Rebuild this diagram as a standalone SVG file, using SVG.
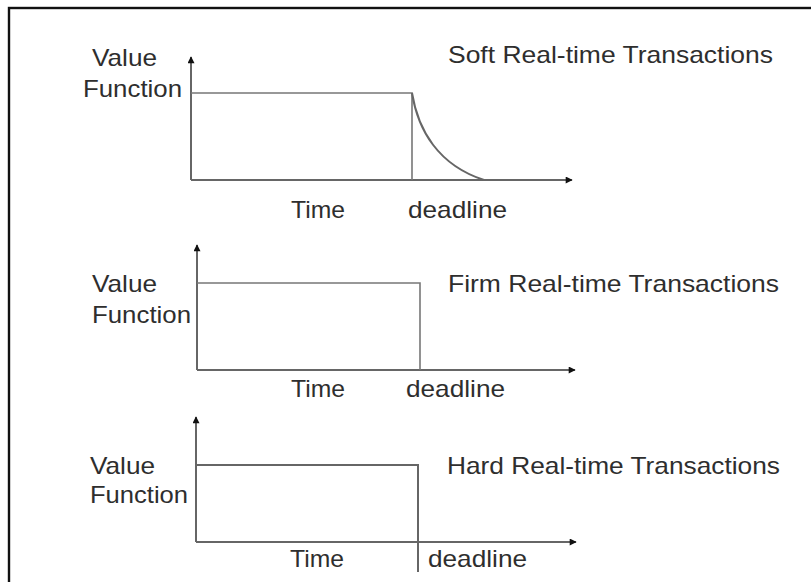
<svg xmlns="http://www.w3.org/2000/svg" width="811" height="582" viewBox="0 0 811 582">
<style>
text{font-family:"Liberation Sans",Arial,sans-serif;font-size:24px;fill:#2e2e2e}
.ax{stroke:#666;stroke-width:2;fill:none}
.ln{stroke:#777;stroke-width:1.6;fill:none}
</style>
<defs>
<marker id="ah" viewBox="0 0 10 10" refX="9" refY="5" markerWidth="8" markerHeight="7" markerUnits="userSpaceOnUse" orient="auto">
<path d="M0,0 L10,5 L0,10 z" fill="#111"/>
</marker>
</defs>
<rect x="0" y="0" width="811" height="582" fill="#fff"/>
<rect x="9" y="8" width="830" height="600" fill="none" stroke="#111" stroke-width="2.4"/>
<g id="connectors">
<path class="ax" d="M191,180 V57" marker-end="url(#ah)"/>
<path class="ax" d="M191,180 H572" marker-end="url(#ah)"/>
<path class="ln" d="M191,93 H412 V180"/>
<path class="ax" d="M412,93 C418,130 438,165 484,180 H498"/>
<path class="ax" d="M197,370 V245" marker-end="url(#ah)"/>
<path class="ax" d="M197,370 H575" marker-end="url(#ah)"/>
<path class="ln" d="M197,283 H420 V370"/>
<path class="ax" d="M196,542 V417" marker-end="url(#ah)"/>
<path class="ax" d="M196,542 H576" marker-end="url(#ah)"/>
<path class="ax" d="M196,465 H418 V572"/>
</g>
<g id="soft">
<text x="92" y="66" textLength="65" lengthAdjust="spacingAndGlyphs">Value</text>
<text x="83" y="97" textLength="99" lengthAdjust="spacingAndGlyphs">Function</text>
<text x="448" y="63" textLength="325" lengthAdjust="spacingAndGlyphs">Soft Real-time Transactions</text>
<text x="291" y="218" textLength="54" lengthAdjust="spacingAndGlyphs">Time</text>
<text x="408" y="218" textLength="99" lengthAdjust="spacingAndGlyphs">deadline</text>
</g>
<g id="firm">
<text x="92" y="292" textLength="65" lengthAdjust="spacingAndGlyphs">Value</text>
<text x="92" y="323" textLength="99" lengthAdjust="spacingAndGlyphs">Function</text>
<text x="448" y="292" textLength="331" lengthAdjust="spacingAndGlyphs">Firm Real-time Transactions</text>
<text x="291" y="397" textLength="54" lengthAdjust="spacingAndGlyphs">Time</text>
<text x="406" y="397" textLength="99" lengthAdjust="spacingAndGlyphs">deadline</text>
</g>
<g id="hard">
<text x="90" y="474" textLength="65" lengthAdjust="spacingAndGlyphs">Value</text>
<text x="90" y="503" textLength="98" lengthAdjust="spacingAndGlyphs">Function</text>
<text x="447" y="474" textLength="333" lengthAdjust="spacingAndGlyphs">Hard Real-time Transactions</text>
<text x="290" y="567" textLength="54" lengthAdjust="spacingAndGlyphs">Time</text>
<text x="428" y="567" textLength="99" lengthAdjust="spacingAndGlyphs">deadline</text>
</g>
</svg>
